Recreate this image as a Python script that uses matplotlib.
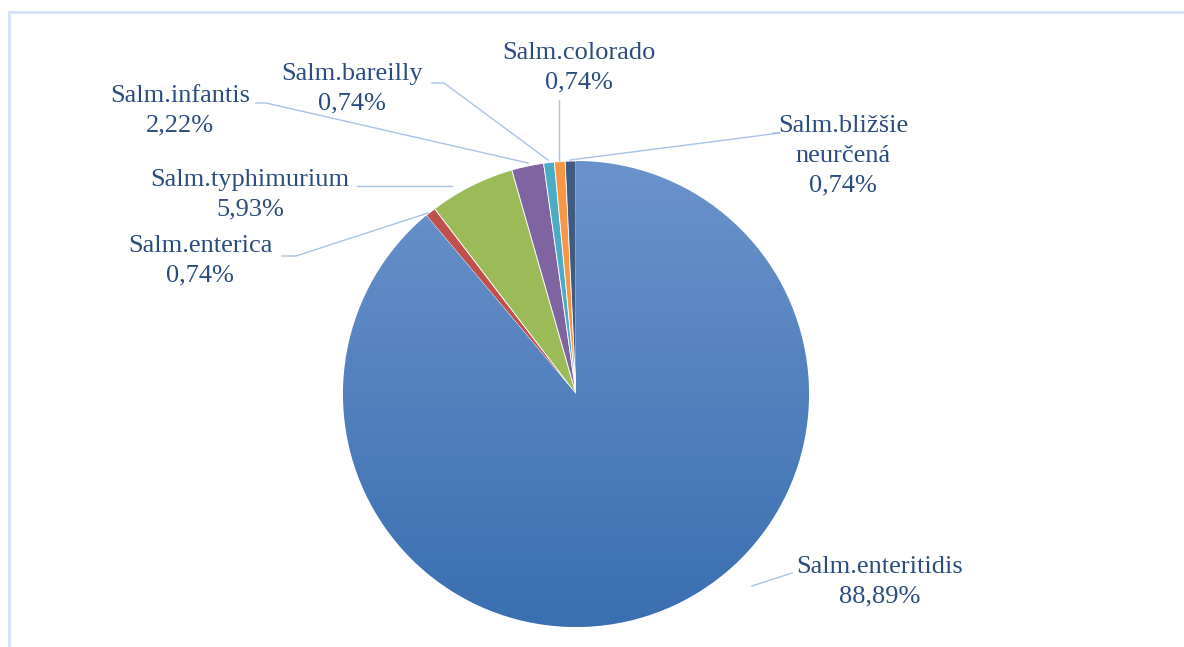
import matplotlib
matplotlib.use("Agg")
import matplotlib.pyplot as plt
import numpy as np
from matplotlib.patches import Rectangle
from matplotlib.colors import LinearSegmentedColormap

labels = ["Salm.enteritidis", "Salm.enterica", "Salm.typhimurium", "Salm.infantis",
          "Salm.bareilly", "Salm.colorado", "Salm.bližšie\nneurčená"]
values = [88.89, 0.74, 5.93, 2.22, 0.74, 0.74, 0.74]
colors = ["#4F81BD", "#C0504D", "#9BBB59", "#8064A2", "#4BACC6", "#F79646", "#3F5B82"]

W, H = 1184, 647
fig = plt.figure(figsize=(W / 100, H / 100), dpi=100)
ax = fig.add_axes([0, 0, 1, 1])

def Y(y):
    return H - y

cx, cy, r = 576, Y(394), 233
wedges, _ = ax.pie(values, colors=colors, startangle=90, counterclock=False,
                   center=(cx, cy), radius=r, frame=True,
                   wedgeprops=dict(edgecolor="white", linewidth=0.6))
ax.set_xlim(0, W)
ax.set_ylim(0, H)
ax.axis("off")

# frame
ax.add_patch(Rectangle((9, Y(1000)), 2000, Y(12) - Y(1000), fill=False,
                       edgecolor="#D3E2F4", lw=2))

# gradient on largest slice
grad = np.linspace(0, 1, 256).reshape(-1, 1)
cmap = LinearSegmentedColormap.from_list("g", ["#3A6FB1", "#6B93CB"])
im = ax.imshow(grad, cmap=cmap, extent=(cx - r, cx + r, cy - r, cy + r),
               origin="lower", aspect="auto", zorder=wedges[0].get_zorder())
im.set_clip_path(wedges[0])
ax.set_xlim(0, W)
ax.set_ylim(0, H)

txtc = "#2B4C7E"
linec = "#A9C3E6"
font = "Liberation Serif"
fs = 19

def pct(v):
    return f"{v:.2f}".replace(".", ",") + "%"

# label placements (text center, leader points) in pixel coords
place = {
    0: ((880, 582), [(792, 573), (752, 586)]),
    1: ((200, 261), [(282, 256), (296, 256), (428, 213)]),
    2: ((250, 195), [(357, 186), (452, 186)]),
    3: ((180, 111), [(256, 103), (266, 103), (528, 163)]),
    4: ((352, 89), [(432, 83), (444, 83), (548, 160)]),
    5: ((579, 68), [(559, 100), (559, 160)]),
    6: ((843, 156), [(773, 133), (780, 133), (570, 160)]),
}
for i, (lab, v) in enumerate(zip(labels, values)):
    (tx, ty), pts = place[i]
    xs = [p[0] for p in pts]
    ys = [Y(p[1]) for p in pts]
    ax.plot(xs, ys, color=linec, lw=1.0, zorder=1)
    ax.text(tx, Y(ty), lab + "\n" + pct(v), ha="center", va="center",
            fontsize=fs, family=font, color=txtc, linespacing=1.45, zorder=5)

fig.savefig("out.png", dpi=100)
